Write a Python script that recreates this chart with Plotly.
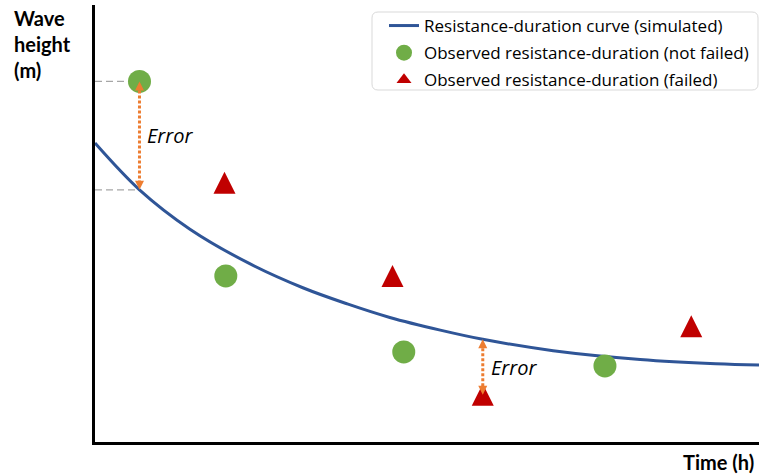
import plotly.graph_objects as go

# ---- data (x: time units, y: wave height units) ----
curve_x = [0, 0.67, 1.43, 2.33, 3.13, 3.80, 4.44, 5.20, 5.84, 6.90, 8.21, 9.35, 10]
curve_y = [6.84, 5.77, 4.87, 4.08, 3.53, 3.16, 2.85, 2.56, 2.35, 2.09, 1.89, 1.79, 1.76]

ok_x = [0.67, 1.97, 4.65, 7.68]
ok_y = [8.25, 3.80, 2.06, 1.74]

fail_x = [1.95, 4.48, 5.84, 8.98]
fail_y = [5.93, 3.80, 1.08, 2.65]

legend_names = ["Resistance-duration curve (simulated)",
                "Observed resistance-duration (not failed)",
                "Observed resistance-duration (failed)"]

# ---- layout constants ----
W, H = 759, 475
ML, MR, MT, MB = 95, 0, 5, 33
XR = [0, 10]
YR = [0, 10]
plot_h = H - MT - MB
px_per_y = plot_h / (YR[1] - YR[0])

BLUE = "#2F5597"
GREEN = "#70AD47"
RED = "#C00000"
ORANGE = "#ED7D31"
GREY = "#A6A6A6"
FONT = "Lato"
FONT2 = "Open Sans"

fig = go.Figure()

# Grey dashed guide lines (from axis to observed point / simulated curve)
fig.add_trace(go.Scatter(x=[XR[0], ok_x[0]], y=[ok_y[0], ok_y[0]], mode="lines",
                         line=dict(color=GREY, width=1.3, dash="7px,4px"),
                         showlegend=False, hoverinfo="skip"))
fig.add_trace(go.Scatter(x=[XR[0], curve_x[1]], y=[curve_y[1], curve_y[1]], mode="lines",
                         line=dict(color=GREY, width=1.3, dash="7px,4px"),
                         showlegend=False, hoverinfo="skip"))

# Simulated curve
fig.add_trace(go.Scatter(x=curve_x, y=curve_y, mode="lines", name=legend_names[0],
                         legendgroup="g1",
                         line=dict(color=BLUE, width=3, shape="spline", smoothing=1.0)))

# Observed not failed
fig.add_trace(go.Scatter(x=ok_x, y=ok_y, mode="markers", name=legend_names[1],
                         legendgroup="g2",
                         marker=dict(color=GREEN, size=23, symbol="circle"),
                         cliponaxis=False))

# Observed failed (arrow-up symbol has apex at anchor -> shift by half its height)
tri_size = 22
fail_y_apex = [v + (tri_size / 2) / px_per_y for v in fail_y]
fig.add_trace(go.Scatter(x=fail_x, y=fail_y_apex, mode="markers", showlegend=False,
                         legendgroup="g3",
                         marker=dict(color=RED, size=tri_size, symbol="arrow-up",
                                     line=dict(width=0)),
                         cliponaxis=False, hoverinfo="skip"))
fig.add_trace(go.Scatter(x=[None], y=[None], mode="markers", name=legend_names[2],
                         legendgroup="g3",
                         marker=dict(color=RED, size=13, symbol="triangle-up")))

# Error arrows (dotted orange, heads at both ends)
arrows = [
    (ok_x[0], ok_y[0], curve_y[1]),      # top: observed, bottom: simulated
    (fail_x[2], curve_y[8], fail_y[2]),  # top: simulated, bottom: observed
]
for ax_, ytop, ybot in arrows:
    fig.add_trace(go.Scatter(x=[ax_, ax_], y=[ytop - 4 / px_per_y, ybot + 4 / px_per_y],
                             mode="lines", line=dict(color=ORANGE, width=3, dash="3px,2px"),
                             showlegend=False, hoverinfo="skip", cliponaxis=False))
    fig.add_trace(go.Scatter(x=[ax_], y=[ytop], mode="markers", showlegend=False,
                             marker=dict(color=ORANGE, size=9, symbol="arrow-up", line=dict(width=0)),
                             hoverinfo="skip", cliponaxis=False))
    fig.add_trace(go.Scatter(x=[ax_], y=[ybot], mode="markers", showlegend=False,
                             marker=dict(color=ORANGE, size=9, symbol="arrow-down", line=dict(width=0)),
                             hoverinfo="skip", cliponaxis=False))
    fig.add_annotation(x=ax_, y=(ytop + ybot) / 2, xref="x", yref="y", text="<i>Error</i>",
                       showarrow=False, xanchor="left", yanchor="middle", xshift=6,
                       font=dict(family=FONT2, size=20, color="black"))

# Axis titles
def pxx(p):
    return (p - ML) / (W - ML - MR)

def pxy(p):
    return (H - MB - p) / plot_h

fig.add_annotation(x=pxx(12), y=pxy(4), xref="paper", yref="paper",
                   text="<b>Wave<br>height<br>(m)</b>", showarrow=False,
                   xanchor="left", yanchor="top", align="left",
                   font=dict(family=FONT, size=20, color="black"))
fig.add_annotation(x=pxx(756), y=pxy(462), xref="paper", yref="paper",
                   text="<b>Time (h)</b>", showarrow=False,
                   xanchor="right", yanchor="middle",
                   font=dict(family=FONT, size=20, color="black"))

# Legend frame (rounded)
x0, y0, x1, y1 = pxx(372), pxy(12), pxx(758), pxy(90)
r = 6
rx = r / (W - ML - MR)
ry = r / plot_h
path = (f"M {x0+rx},{y0} L {x1-rx},{y0} Q {x1},{y0} {x1},{y0-ry} "
        f"L {x1},{y1+ry} Q {x1},{y1} {x1-rx},{y1} L {x0+rx},{y1} Q {x0},{y1} {x0},{y1+ry} "
        f"L {x0},{y0-ry} Q {x0},{y0} {x0+rx},{y0} Z")
fig.add_shape(type="path", path=path, xref="paper", yref="paper",
              line=dict(color="#D9D9D9", width=1), fillcolor="white", layer="above")

fig.update_layout(
    width=W, height=H,
    margin=dict(l=ML, r=MR, t=MT, b=MB, pad=0),
    paper_bgcolor="white", plot_bgcolor="white",
    font=dict(family=FONT, color="black"),
    showlegend=True,
    legend=dict(x=pxx(384), y=pxy(8), xanchor="left", yanchor="top",
                bgcolor="rgba(0,0,0,0)", borderwidth=0,
                font=dict(family=FONT2, size=17, color="black"),
                traceorder="grouped", tracegroupgap=2),
    xaxis=dict(range=XR, showgrid=False, zeroline=False, showticklabels=False, ticks="",
               showline=True, linecolor="black", linewidth=3, fixedrange=True),
    yaxis=dict(range=YR, showgrid=False, zeroline=False, showticklabels=False, ticks="",
               showline=True, linecolor="black", linewidth=3, fixedrange=True),
)

fig.write_html("out.html", config={"displayModeBar": False},
               post_script="document.body.style.margin='0';document.body.style.overflow='hidden';")
